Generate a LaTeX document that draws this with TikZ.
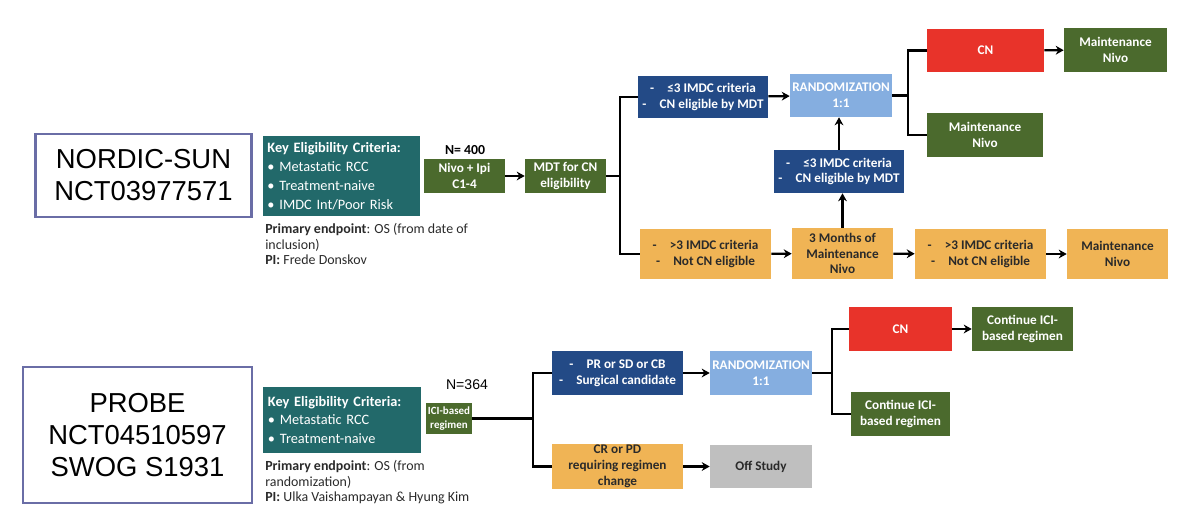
\documentclass[tikz,border=0pt]{standalone}
\usepackage{fontspec}
\setmainfont{Carlito}
\newfontfamily\arialfont{Liberation Sans}
\usetikzlibrary{arrows.meta}
\definecolor{ink}{HTML}{2A2A2A}
\definecolor{critteal}{HTML}{22696A}
\definecolor{armgreen}{HTML}{4B6A2D}
\definecolor{mdtblue}{HTML}{234A86}
\definecolor{randblue}{HTML}{85AEE0}
\definecolor{cnred}{HTML}{E8332A}
\definecolor{offgold}{HTML}{F0B455}
\definecolor{offgray}{HTML}{BFBFBF}
\definecolor{frame}{HTML}{6A6DA6}

\begin{document}
\begin{tikzpicture}[x=0.025cm,y=-0.025cm,
  font=\fontsize{9.4}{11.2}\selectfont\bfseries, text=white,
  sz/.style 2 args={minimum width=#1*0.025cm, minimum height=#2*0.025cm},
  flow/.style={-{Stealth[length=2mm,width=2.2mm]}, line width=1.6pt, draw=black},
  link/.style={line width=1.6pt, draw=black},
  box/.style={align=center, inner sep=1pt},
  critbox/.style={box, fill=critteal, align=left, text width=3.7cm, inner xsep=0.08cm,
                  font=\fontsize{10.2}{13.5}\selectfont},
  greenbox/.style={box, fill=armgreen},
  navybox/.style={box, fill=mdtblue},
  randbox/.style={box, fill=randblue},
  redbox/.style={box, fill=cnred},
  goldbox/.style={box, fill=offgold, text=ink},
  graybox/.style={box, fill=offgray, text=ink},
  trial/.style={draw=frame, line width=1.6pt, fill=white, align=center, text=black,
                font=\arialfont\fontsize{19.5}{22.8}\selectfont},
  note/.style={anchor=north west, align=left, inner sep=0pt, text=ink,
               font=\fontsize{9.9}{11.2}\selectfont}]

\path[use as bounding box] (0,0) rectangle (1200,515);

% ------------------------------------------------------------ NORDIC-SUN
\node[trial, sz={216}{83}] (nordic) at (143.5,175.5) {NORDIC-SUN\\NCT03977571};

\node[critbox, sz={157}{80}] (keyA) at (341.5,176)
  {\textbf{Key Eligibility Criteria:}\\\textbullet\ Metastatic RCC\\
   \textbullet\ Treatment-naive\\\textbullet\ IMDC Int/Poor Risk};
\node[note] (endA) at (265,223)
  {\textbf{Primary endpoint}: OS (from date of\\inclusion)\\\textbf{PI:} Frede Donskov};

\node[text=black, font=\fontsize{9.8}{11}\selectfont\bfseries] (nA) at (465,150) {N= 400};
\node[greenbox, sz={81}{34}] (nivo) at (464.5,176) {Nivo + Ipi\\C1-4};
\node[greenbox, sz={81}{34}] (mdt) at (565.5,176) {MDT for CN\\eligibility};
\draw[flow] (nivo) -- (mdt);

% upper arm
\node[navybox, sz={130}{42}] (eligA) at (703,97)
  {-\hspace{1em}≤3 IMDC criteria\\-\hspace{1em}CN eligible by MDT};
\node[randbox, sz={102}{43}] (randA) at (841,95.5) {RANDOMIZATION\\1:1};
\node[navybox, sz={130}{43}] (eligB) at (839,171.5)
  {-\hspace{1em}≤3 IMDC criteria\\-\hspace{1em}CN eligible by MDT};
\node[redbox, sz={117}{43}] (cnA) at (985.5,50.5) {CN};
\node[greenbox, sz={103}{44}] (maintA1) at (1115.5,50) {Maintenance\\Nivo};
\node[greenbox, sz={116}{44}] (maintA2) at (985,135) {Maintenance\\Nivo};

% lower arm
\node[goldbox, sz={131}{50}] (notA) at (705.5,254)
  {-\hspace{1em}>3 IMDC criteria\\-\hspace{1em}Not CN eligible};
\node[goldbox, sz={101}{51}] (monthsA) at (842.5,253.5) {3 Months of\\Maintenance\\Nivo};
\node[goldbox, sz={131}{50}] (notB) at (980.5,254)
  {-\hspace{1em}>3 IMDC criteria\\-\hspace{1em}Not CN eligible};
\node[goldbox, sz={101}{50}] (maintA3) at (1117.5,254) {Maintenance\\Nivo};

\coordinate (jA) at (620,176);
\coordinate (jB) at (908,95.5);
\draw[link] (mdt) -- (jA);
\draw[link] (eligA.west) -| (jA) |- (notA.west);
\draw[flow] (eligA) -- (randA);
\draw[link] (randA) -- (jB);
\draw[link] (cnA.west) -| (jB) |- (maintA2.west);
\draw[flow] (cnA) -- (maintA1);
\draw[flow] (notA) -- (monthsA);
\draw[flow] (monthsA) -- (notB);
\draw[flow] (notB) -- (maintA3);
\draw[flow] (monthsA.north) -- (eligB.south -| monthsA.north);
\draw[flow] (eligB.north) -- (randA.south -| eligB.north);

% ------------------------------------------------------------ PROBE
\node[trial, sz={229}{136}] (probe) at (137.5,435) {PROBE\\NCT04510597\\SWOG S1931};

\node[critbox, sz={158}{66}] (keyB) at (342,420)
  {\textbf{Key Eligibility Criteria:}\\\textbullet\ Metastatic RCC\\\textbullet\ Treatment-naive};
\node[note] (endB) at (265,460)
  {\textbf{Primary endpoint}: OS (from\\randomization)\\
   \textbf{PI:} Ulka Vaishampayan \& Hyung Kim};

\node[text=black, font=\arialfont\fontsize{10}{12}\selectfont] (nB) at (467,385) {N=364};
\node[greenbox, sz={46}{31}, font=\fontsize{7.8}{9.4}\selectfont\bfseries] (ici) at (449,418.5)
  {ICI-based\\regimen};

\node[navybox, sz={131}{44}] (prA) at (617.5,373)
  {-\hspace{1em}PR or SD or CB\\-\hspace{1em}Surgical candidate};
\node[randbox, sz={102}{44}] (randB) at (761,373) {RANDOMIZATION\\1:1};
\node[goldbox, sz={131}{43}] (crA) at (617.5,466.5) {CR or PD\\requiring regimen\\change};
\node[graybox, sz={102}{43}] (offB) at (761,466.5) {Off Study};
\node[redbox, sz={103}{44}] (cnB) at (900.5,329) {CN};
\node[greenbox, sz={101}{44}] (contB1) at (1022.5,329) {Continue ICI-\\based regimen};
\node[greenbox, sz={99}{44}] (contB2) at (900.5,414) {Continue ICI-\\based regimen};

\coordinate (jC) at (533,418.5);
\coordinate (jD) at (832,373);
\draw[link] (ici) -- (jC);
\draw[link] (prA.west) -| (jC) |- (crA.west);
\draw[flow] (prA) -- (randB);
\draw[flow] (crA) -- (offB);
\draw[link] (randB) -- (jD);
\draw[link] (cnB.west) -| (jD) |- (contB2.west);
\draw[flow] (cnB) -- (contB1);
\end{tikzpicture}
\end{document}
